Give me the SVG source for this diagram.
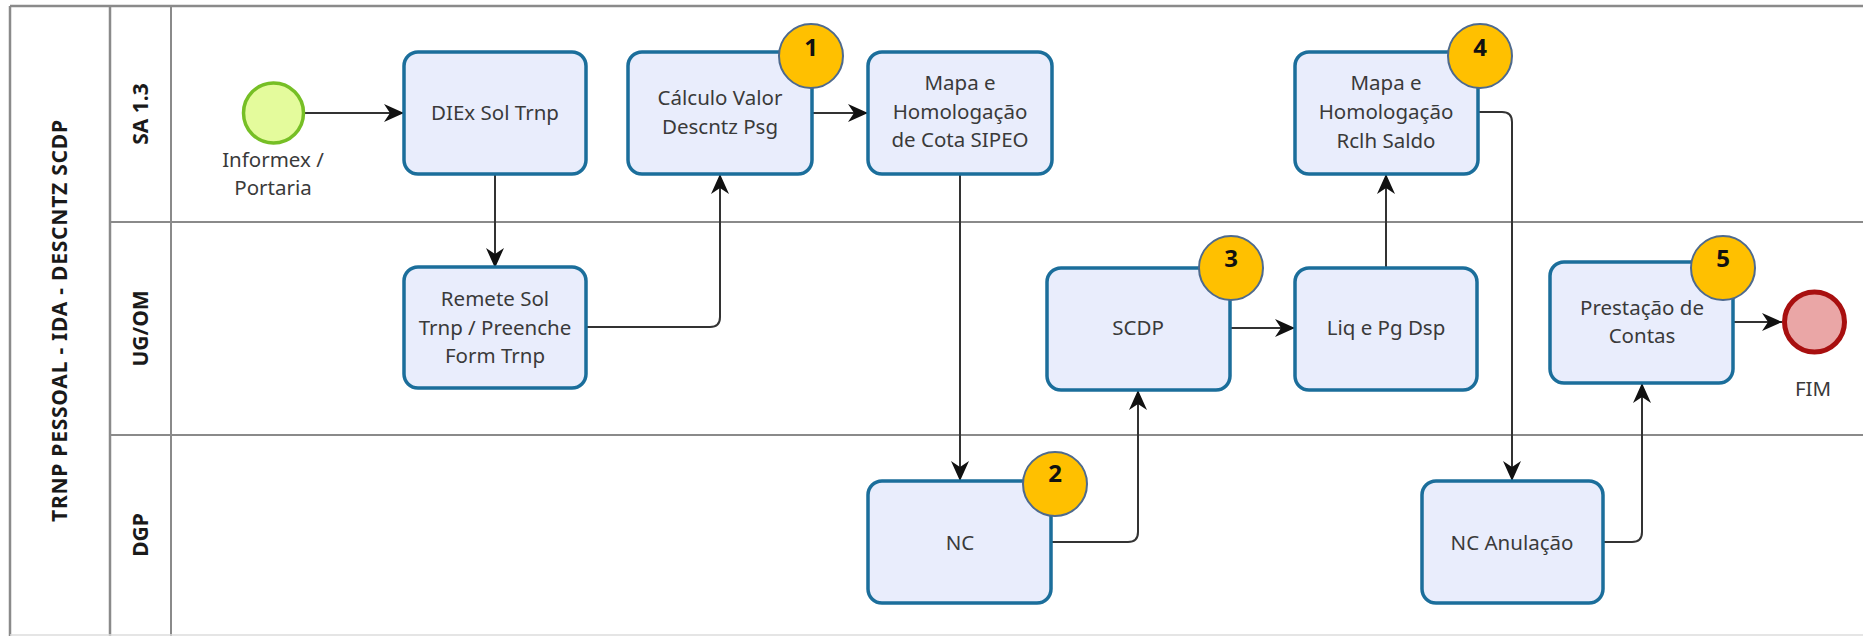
<svg xmlns="http://www.w3.org/2000/svg" width="1863" height="636" viewBox="0 0 1863 636">
<style>
.pool{stroke:#8a8a8a;stroke-width:2.5;fill:none}
.lane{stroke:#8a8a8a;stroke-width:2;fill:none}
.task{fill:#e9edfc;stroke:#1b6e9b;stroke-width:3.5}
.t{font-family:"Noto Sans","Open Sans",sans-serif;font-size:20.5px;fill:#3a3a3a;text-anchor:middle}
.lbl{font-family:"Noto Sans","Open Sans",sans-serif;font-size:21px;font-weight:bold;fill:#1a1a1a;text-anchor:middle}
.badge{fill:#ffc000;stroke:#4e6a8e;stroke-width:2}
.num{font-family:"Noto Sans","Open Sans",sans-serif;font-size:24px;font-weight:bold;fill:#111;text-anchor:middle}
.flow{fill:none;stroke:#333;stroke-width:2;marker-end:url(#arr)}
</style>
<defs>
<marker id="arr" markerUnits="userSpaceOnUse" markerWidth="22" markerHeight="20" refX="20" refY="9" orient="auto">
<path d="M0,0 L20,9 L0,18 L6,9 Z" fill="#111"/>
</marker>
</defs>
<rect width="1863" height="636" fill="#ffffff"/>
<g id="pool">
<line class="pool" x1="10" y1="6" x2="1863" y2="6"/>
<line class="pool" x1="10" y1="6" x2="10" y2="636"/>
<line class="pool" x1="110" y1="6" x2="110" y2="636"/>
<line class="lane" x1="171" y1="6" x2="171" y2="636"/>
<line class="lane" x1="110" y1="222" x2="1863" y2="222"/>
<line class="lane" x1="110" y1="435" x2="1863" y2="435"/>
<line x1="10" y1="635" x2="1863" y2="635" stroke="#dddddd" stroke-width="1.5"/>
<text class="lbl" transform="translate(67,321) rotate(-90)" textLength="402" lengthAdjust="spacing">TRNP PESSOAL - IDA - DESCNTZ SCDP</text>
<text class="lbl" transform="translate(148,114) rotate(-90)">SA 1.3</text>
<text class="lbl" transform="translate(148,328.5) rotate(-90)">UG/OM</text>
<text class="lbl" transform="translate(148,535) rotate(-90)">DGP</text>
</g>
<g id="connectors">
<path class="flow" d="M305,113 H404"/>
<path class="flow" d="M495,174 V268"/>
<path class="flow" d="M586,327 H710 Q720,327 720,317 V174"/>
<path class="flow" d="M812,113 H868"/>
<path class="flow" d="M960,174 V481"/>
<path class="flow" d="M1051,542 H1128 Q1138,542 1138,532 V390"/>
<path class="flow" d="M1230,328 H1295"/>
<path class="flow" d="M1386,268 V174"/>
<path class="flow" d="M1478,112 H1502 Q1512,112 1512,122 V481"/>
<path class="flow" d="M1603,542 H1632 Q1642,542 1642,532 V383"/>
<path class="flow" d="M1733,322 H1782"/>
</g>
<g id="start">
<circle cx="273.5" cy="113" r="30" fill="#e4fb9c" stroke="#76bf25" stroke-width="3.5"/>
<text class="t" x="273" y="167">Informex /</text>
<text class="t" x="273" y="195">Portaria</text>
</g>
<g id="diex">
<rect class="task" x="404" y="52" width="182" height="122" rx="14"/>
<text class="t" x="495" y="120">DIEx Sol Trnp</text>
</g>
<g id="remete">
<rect class="task" x="404" y="267" width="182" height="121" rx="14"/>
<text class="t" x="495" y="306">Remete Sol</text>
<text class="t" x="495" y="334.5">Trnp / Preenche</text>
<text class="t" x="495" y="363">Form Trnp</text>
</g>
<g id="calculo">
<rect class="task" x="628" y="52" width="184" height="122" rx="14"/>
<text class="t" x="720" y="105">Cálculo Valor</text>
<text class="t" x="720" y="134">Descntz Psg</text>
<circle class="badge" cx="811" cy="56" r="32"/>
<text class="num" x="811" y="55.5">1</text>
</g>
<g id="mapa-cota">
<rect class="task" x="868" y="52" width="184" height="122" rx="14"/>
<text class="t" x="960" y="90">Mapa e</text>
<text class="t" x="960" y="119">Homologação</text>
<text class="t" x="960" y="147">de Cota SIPEO</text>
</g>
<g id="nc">
<rect class="task" x="868" y="481" width="183" height="122" rx="14"/>
<text class="t" x="960" y="550">NC</text>
<circle class="badge" cx="1055" cy="484" r="32"/>
<text class="num" x="1055" y="481.5">2</text>
</g>
<g id="scdp">
<rect class="task" x="1047" y="268" width="183" height="122" rx="14"/>
<text class="t" x="1138" y="335">SCDP</text>
<circle class="badge" cx="1231" cy="268" r="32"/>
<text class="num" x="1231" y="266.5">3</text>
</g>
<g id="liq">
<rect class="task" x="1295" y="268" width="182" height="122" rx="14"/>
<text class="t" x="1386" y="335">Liq e Pg Dsp</text>
</g>
<g id="mapa-rclh">
<rect class="task" x="1295" y="52" width="183" height="122" rx="14"/>
<text class="t" x="1386" y="90">Mapa e</text>
<text class="t" x="1386" y="119">Homologação</text>
<text class="t" x="1386" y="147.5">Rclh Saldo</text>
<circle class="badge" cx="1480" cy="56" r="32"/>
<text class="num" x="1480" y="55.5">4</text>
</g>
<g id="nc-anulacao">
<rect class="task" x="1422" y="481" width="181" height="122" rx="14"/>
<text class="t" x="1512" y="550">NC Anulação</text>
</g>
<g id="prestacao">
<rect class="task" x="1550" y="262" width="183" height="121" rx="14"/>
<text class="t" x="1642" y="315">Prestação de</text>
<text class="t" x="1642" y="343">Contas</text>
<circle class="badge" cx="1723" cy="268" r="32"/>
<text class="num" x="1723" y="266.5">5</text>
</g>
<g id="fim">
<circle cx="1814.5" cy="322" r="30" fill="#eaa6a6" stroke="#a80f0f" stroke-width="5"/>
<text class="t" x="1813" y="396">FIM</text>
</g>
</svg>
